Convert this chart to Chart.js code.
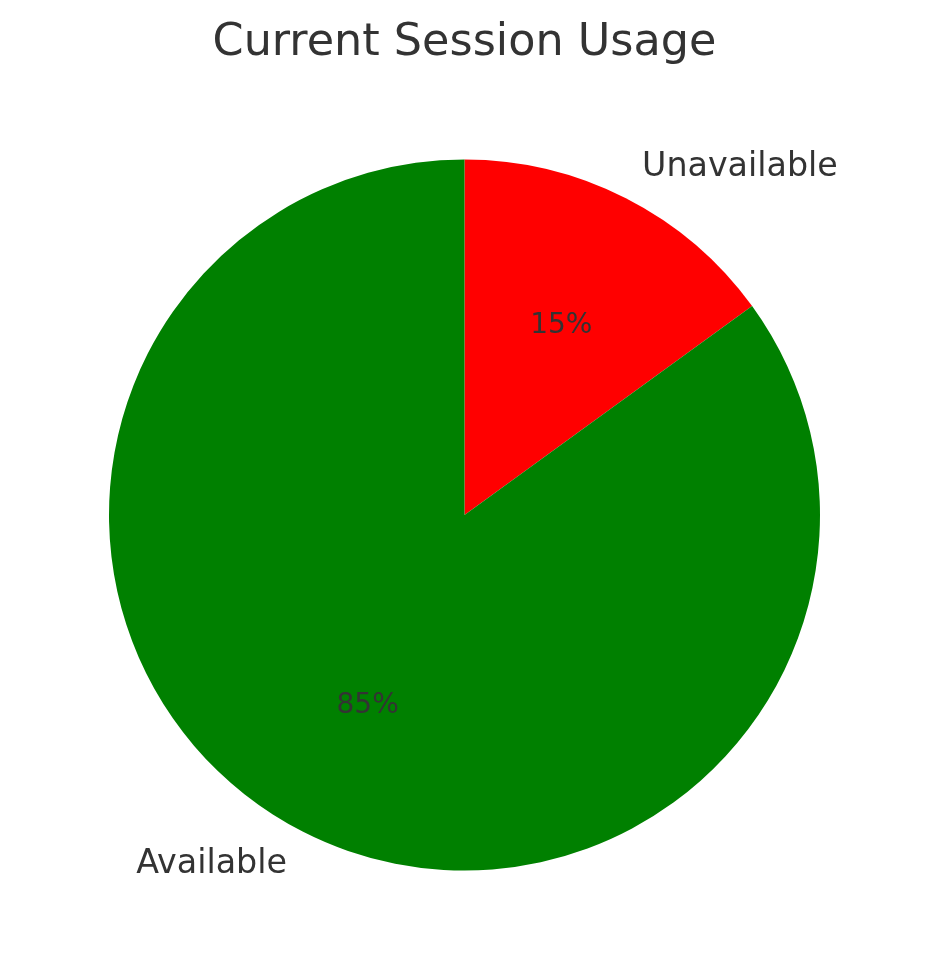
<!DOCTYPE html>
<html>
<head>
<meta charset="utf-8">
<script src="https://cdn.jsdelivr.net/npm/chart.js@4/dist/chart.umd.min.js"></script>
<style>
  html, body { margin: 0; padding: 0; background: #fff; }
  #wrap { width: 929px; height: 980px; }
</style>
</head>
<body>
<div id="wrap"><canvas id="chart"></canvas></div>
<script>
'use strict';

// Datos del gráfico
const TITLE = 'Current Session Usage';
const LABELS = ['Unavailable', 'Available'];
const VALUES = [15, 85];
const COLORS = ['#ff0000', '#008000'];
const TEXT = '#333333';
const FONT = "'DejaVu Sans', sans-serif";

// Etiquetas al estilo matplotlib: nombre a 1.1r, porcentaje a 0.6r
const pieLabels = {
  id: 'pieLabels',
  afterDatasetsDraw(chart) {
    const { ctx } = chart;
    const meta = chart.getDatasetMeta(0);
    const total = VALUES.reduce((a, b) => a + b, 0);
    ctx.save();
    ctx.fillStyle = TEXT;
    meta.data.forEach((arc, i) => {
      const p = arc.getProps(['x', 'y', 'startAngle', 'endAngle', 'outerRadius'], true);
      const mid = (p.startAngle + p.endAngle) / 2;
      const cos = Math.cos(mid), sin = Math.sin(mid);

      ctx.font = '33.3px ' + FONT;
      ctx.textBaseline = 'middle';
      ctx.textAlign = cos >= 0 ? 'left' : 'right';
      ctx.fillText(LABELS[i], p.x + 1.1 * p.outerRadius * cos, p.y + 1.1 * p.outerRadius * sin + 1);

      ctx.font = '28px ' + FONT;
      ctx.textAlign = 'center';
      const pct = Math.round(100 * VALUES[i] / total) + '%';
      ctx.fillText(pct, p.x + 0.6 * p.outerRadius * cos, p.y + 0.6 * p.outerRadius * sin + 1);
    });
    // Título
    ctx.font = '44.5px ' + FONT;
    ctx.textAlign = 'center';
    ctx.textBaseline = 'alphabetic';
    ctx.fillText(TITLE, 464.5, 55);
    ctx.restore();
  },
};

new Chart(document.getElementById('chart'), {
  type: 'pie',
  data: {
    labels: LABELS,
    datasets: [{
      data: VALUES,
      backgroundColor: COLORS,
      borderWidth: 0,
    }],
  },
  options: {
    responsive: true, maintainAspectRatio: false,
    animation: false,
    layout: { padding: { top: 159, bottom: 109, left: 109, right: 109 } },
    plugins: {
      legend: { display: false },
      tooltip: { enabled: false },
      title: { display: false },
    },
  },
  plugins: [pieLabels],
});
</script>
</body>
</html>
